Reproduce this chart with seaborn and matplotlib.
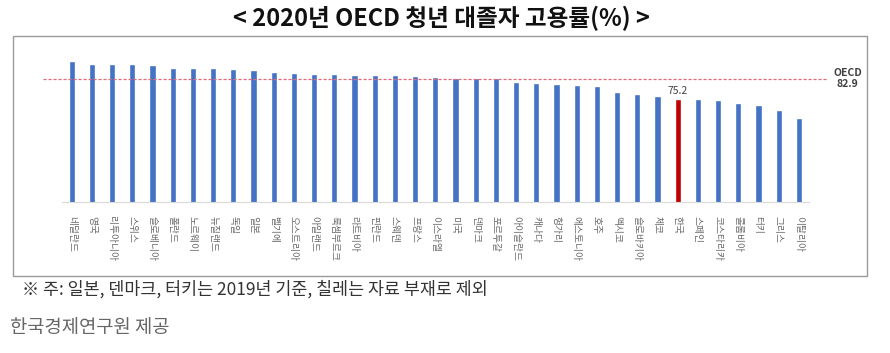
import numpy as np
import pandas as pd
import seaborn as sns
import matplotlib.pyplot as plt
from matplotlib.patches import Rectangle

# 2020 OECD youth college-graduate employment rate (%)
countries = ['네덜란드', '영국', '리투아니아', '스위스', '슬로베니아', '폴란드', '노르웨이',
             '뉴질랜드', '독일', '일본', '벨기에', '오스트리아', '아일랜드', '룩셈부르크',
             '라트비아', '핀란드', '스웨덴', '프랑스', '이스라엘', '미국', '덴마크', '포르투갈',
             '아이슬란드', '캐나다', '헝가리', '에스토니아', '호주', '멕시코', '슬로바키아',
             '체코', '한국', '스페인', '코스타리카', '콜롬비아', '터키', '그리스', '이탈리아']
rates = [89.8, 88.9, 88.9, 88.6, 88.4, 87.3, 87.3, 87.3, 86.9, 86.4, 85.8, 85.2,
         85.0, 85.0, 84.6, 84.6, 84.6, 84.2, 83.9, 83.3, 83.3, 83.3, 81.7, 81.5,
         81.1, 80.7, 80.2, 77.8, 77.2, 76.3, 75.2, 75.0, 74.7, 73.5, 72.9, 70.9, 67.7]
oecd_avg = 82.9
highlight = '한국'

df = pd.DataFrame({'country': countries, 'rate': rates})

sns.set_style('white')
plt.rcParams['font.family'] = ['Noto Sans CJK KR', 'DejaVu Sans']

fig = plt.figure(figsize=(8.9, 3.53), dpi=100)
ax = fig.add_axes([61.6 / 890, 1 - 201.7 / 353, 747.4 / 890, 153.6 / 353])

palette = ['#C00000' if c == highlight else '#4472C4' for c in countries]
sns.barplot(data=df, x='country', y='rate', hue='country', palette=palette,
            legend=False, width=0.3, saturation=1, ax=ax)
ax.set_ylim(35, 95)
ax.set_xlim(-0.5, len(countries) - 0.5)
ax.set_xlabel('')
ax.set_ylabel('')
ax.set_yticks([])

for s in ['top', 'left', 'right']:
    ax.spines[s].set_visible(False)
ax.spines['bottom'].set_color('#d9d9d9')
ax.spines['bottom'].set_linewidth(0.8)

ax.set_xticks(range(len(countries)))
ax.set_xticklabels(countries, rotation=-90, fontsize=7, color='#6a6a6a')
ax.tick_params(axis='x', length=0, pad=10)
# small separator ticks between categories
ax.set_xticks(np.arange(-0.5, len(countries), 1), minor=True)
ax.tick_params(axis='x', which='minor', length=3, color='#d9d9d9', width=0.8)

# OECD average line
ax.hlines(oecd_avg, -1.42, 37.44, colors='#E06B7A', linestyles=(0, (2.5, 1.5)),
          linewidth=0.9, clip_on=False)
ax.text(38.4, oecd_avg + 0.1, 'OECD\n82.9', fontsize=7.5, fontweight='bold',
        color='#404040', ha='center', va='center', linespacing=1.1)

k = countries.index(highlight)
ax.text(k, rates[k] + 1.2, f'{rates[k]}', fontsize=7.5, color='#404040',
        ha='center', va='bottom')

# outer frame
fig.patches.append(Rectangle((13 / 890, 1 - 276 / 353), 854 / 890, 240 / 353,
                             transform=fig.transFigure, fill=False,
                             edgecolor='#9a9a9a', linewidth=1.0))

fig.text(441 / 890, 1 - 18 / 353, '< 2020년 OECD 청년 대졸자 고용률(%) >',
         fontsize=17, fontweight='bold', color='#111111', ha='center', va='center')
fig.text(22 / 890, 1 - 289 / 353, '※ 주: 일본, 덴마크, 터키는 2019년 기준, 칠레는 자료 부재로 제외',
         fontsize=12.5, color='#333333', ha='left', va='center')
fig.text(10 / 890, 1 - 327 / 353, '한국경제연구원 제공',
         fontsize=13.5, color='#666666', ha='left', va='center')

fig.savefig('out.png', dpi=100)
